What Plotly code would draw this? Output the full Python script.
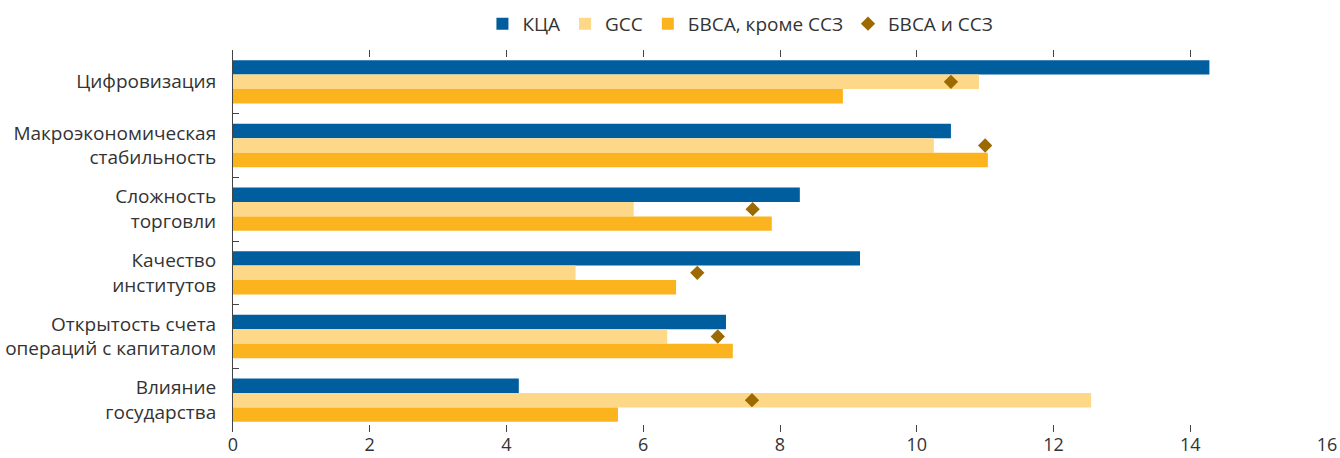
import plotly.graph_objects as go

categories = [
    "Цифровизация",
    "Макроэкономическая<br>стабильность",
    "Сложность<br>торговли",
    "Качество<br>институтов",
    "Открытость счета<br>операций с капиталом",
    "Влияние<br>государства",
]
kca = [14.28, 10.50, 8.29, 9.17, 7.21, 4.18]
gcc = [10.91, 10.25, 5.86, 5.01, 6.35, 12.55]
bvsa_ex = [8.92, 11.04, 7.88, 6.48, 7.31, 5.63]
bvsa_all = [10.50, 11.00, 7.60, 6.79, 7.09, 7.59]
x_ticks = [0, 2, 4, 6, 8, 10, 12, 14, 16]

FONT = "Open Sans"
TXT = "#333333"

fig = go.Figure()
fig.add_trace(go.Bar(y=categories, x=kca, orientation="h", name="КЦА",
                     marker=dict(color="#005E9E", line=dict(width=0))))
fig.add_trace(go.Bar(y=categories, x=gcc, orientation="h", name="GCC",
                     marker=dict(color="#FDD888", line=dict(width=0))))
fig.add_trace(go.Bar(y=categories, x=bvsa_ex, orientation="h", name="БВСА, кроме ССЗ",
                     marker=dict(color="#FBB41E", line=dict(width=0))))
fig.add_trace(go.Scatter(y=categories, x=bvsa_all, mode="markers", name="БВСА и ССЗ",
                         marker=dict(symbol="diamond", size=11, color="#9C6A00")))

fig.update_layout(
    width=1340, height=458,
    margin=dict(l=233, r=13, t=50, b=26, autoexpand=False),
    paper_bgcolor="white", plot_bgcolor="white",
    barmode="group", bargap=0.32, bargroupgap=0,
    font=dict(family=FONT, size=19, color=TXT),
    showlegend=True,
    legend=dict(orientation="h", x=0.228, xanchor="left",
                yref="container", y=0.948, yanchor="middle",
                font=dict(family=FONT, size=19, color=TXT), itemwidth=30,
                tracegroupgap=0, bgcolor="rgba(0,0,0,0)"),
    xaxis=dict(range=[0, 16], tickvals=x_ticks, ticks="inside", ticklen=7,
               tickcolor="#444", tickwidth=1, showgrid=False, zeroline=False,
               showline=False, mirror="ticks", automargin=False,
               tickfont=dict(family=FONT, size=18, color=TXT)),
    yaxis=dict(autorange="reversed", ticks="inside", tickson="boundaries", ticklen=6,
               tickcolor="#444", tickwidth=1, showline=True, linecolor="#444", linewidth=1,
               showgrid=False, zeroline=False, ticklabelstandoff=12, automargin=False,
               tickfont=dict(family=FONT, size=19, color=TXT)),
)

fig.write_html("out.html", config={"displayModeBar": False},
               post_script="document.body.style.margin='0';document.body.style.overflow='hidden';")
